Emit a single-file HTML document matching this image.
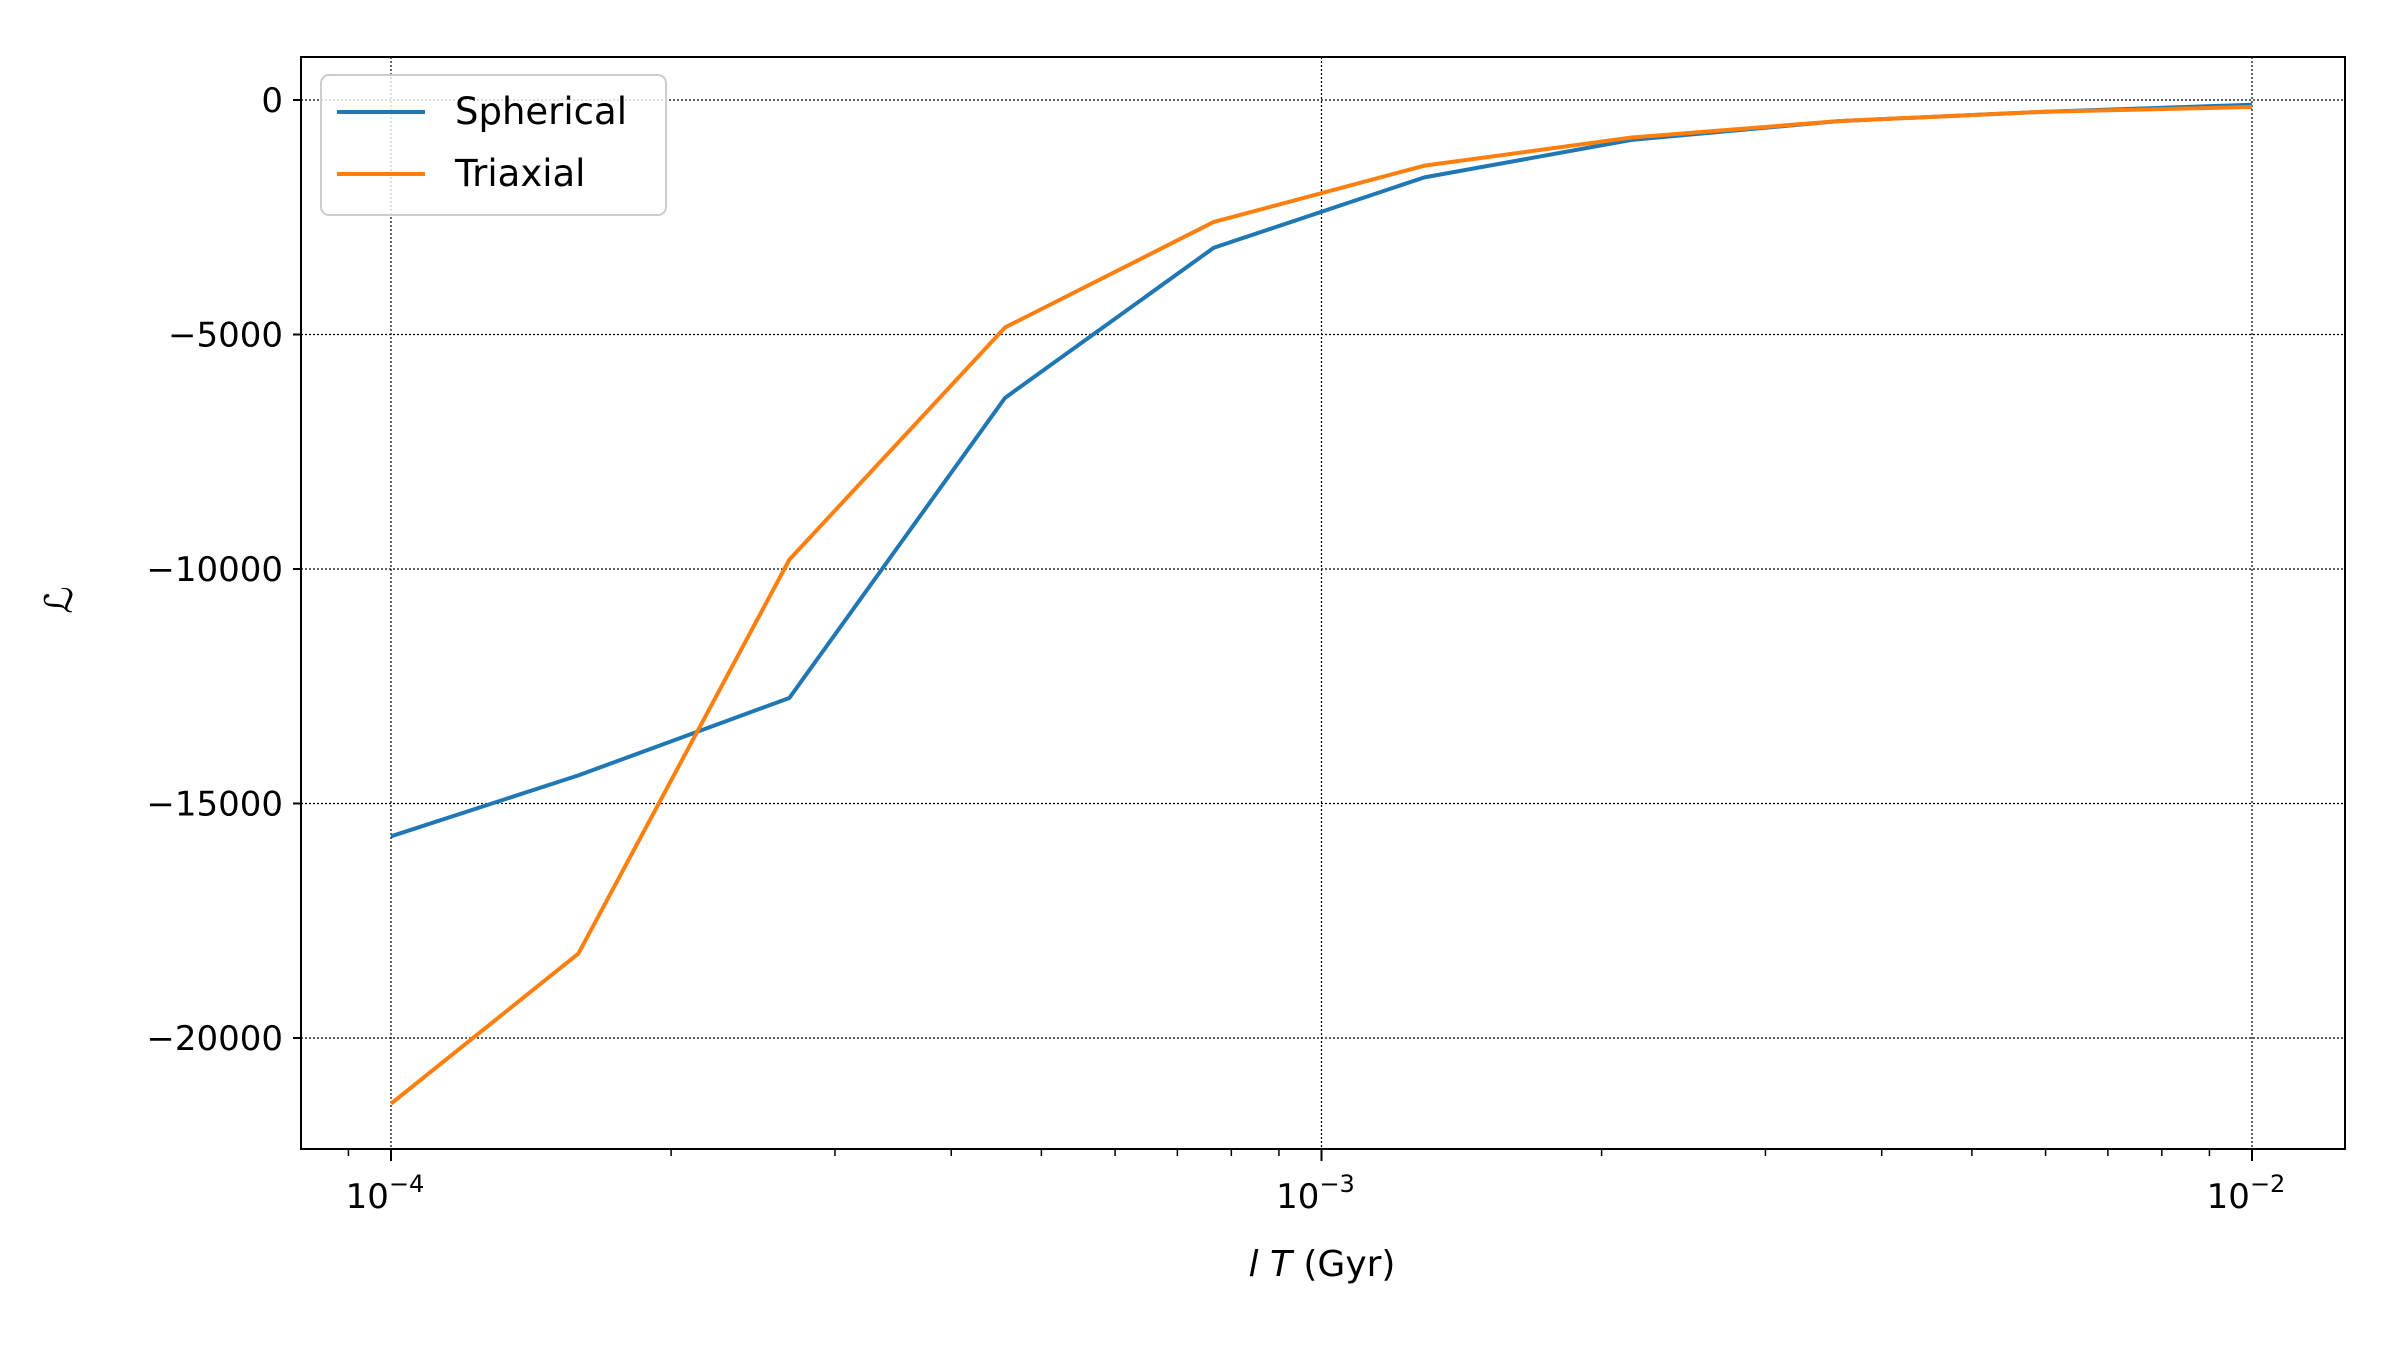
<!DOCTYPE html>
<html><head><meta charset="utf-8"><style>
html,body{margin:0;padding:0;background:#fff;}
svg text{font-family:"DejaVu Sans","Liberation Sans",sans-serif;fill:#000;}
</style></head><body>
<svg id="chart" width="2400" height="1350" viewBox="0 0 2400 1350" xmlns="http://www.w3.org/2000/svg">
<rect width="2400" height="1350" fill="#fff"/>
<g id="grid"></g>
<g id="series"></g>
<rect x="301" y="57" width="2044" height="1092" fill="none" stroke="#000" stroke-width="2"/>
<g id="axes"></g>
<text x="1322" y="1276" font-size="36" text-anchor="middle"><tspan font-style="italic">l T</tspan> (Gyr)</text>
<text transform="translate(72,600) rotate(-90)" font-size="38" font-style="italic" text-anchor="middle">ℒ</text>
<g>
<rect x="321" y="75" width="345" height="140" rx="8" fill="#fff" fill-opacity="0.8" stroke="#ccc" stroke-width="2"/>
<line x1="337" y1="112" x2="425" y2="112" stroke="#1f77b4" stroke-width="4"/>
<text x="455" y="124" font-size="37">Spherical</text>
<line x1="337" y1="174" x2="425" y2="174" stroke="#ff7f0e" stroke-width="4"/>
<text x="455" y="186" font-size="37">Triaxial</text>
</g>
</svg>
<script>
const xValues=[1e-4,1.59e-4,2.68e-4,4.57e-4,7.66e-4,1.29e-3,2.154e-3,3.594e-3,5.995e-3,1e-2];
const spherical=[-15700,-14400,-12750,-6350,-3150,-1650,-850,-450,-250,-100];
const triaxial=[-21400,-18200,-9800,-4850,-2600,-1400,-800,-450,-250,-150];
const yTicks=[0,-5000,-10000,-15000,-20000];
const yTickLabels=["0","−5000","−10000","−15000","−20000"];
const xTickExps=[-4,-3,-2];
const NS="http://www.w3.org/2000/svg";
function xs(v){return 391+(Math.log10(v)+4)*930.5;}
function ys(v){return 100-v*(938/20000);}
function mk(tag,attrs,parent){const e=document.createElementNS(NS,tag);for(const k in attrs)e.setAttribute(k,attrs[k]);parent.appendChild(e);return e;}
const grid=document.getElementById('grid'),axes=document.getElementById('axes'),ser=document.getElementById('series');
yTicks.forEach((t,i)=>{const y=ys(t);
 const g=mk('line',{x1:301,x2:2345,y1:y,y2:y,stroke:'#000','stroke-width':1.2,'stroke-dasharray':'2,2'},grid);
 
 const tk=mk('line',{x1:293,x2:301,y1:y,y2:y,stroke:'#000','stroke-width':2},axes);
 
 const tx=mk('text',{x:283,y:y+12,'font-size':34,'text-anchor':'end'},axes);tx.textContent=yTickLabels[i];
 
});
xTickExps.forEach(e=>{const x=xs(Math.pow(10,e));
 const g=mk('line',{x1:x,x2:x,y1:57,y2:1149,stroke:'#000','stroke-width':1.2,'stroke-dasharray':'2,2'},grid);
 
 const tk=mk('line',{x1:x,x2:x,y1:1149,y2:1161,stroke:'#000','stroke-width':2},axes);
 
 const tx=mk('text',{x:x-6,y:1208,'font-size':34,'text-anchor':'middle'},axes);
 
 tx.innerHTML='10<tspan dy="-16" font-size="24">−'+(-e)+'</tspan>';
});
for(let e=-5;e<=-2;e++){for(let m=2;m<=9;m++){const v=m*Math.pow(10,e);const x=xs(v);if(x<301||x>2345)continue;
 const tk=mk('line',{x1:x,x2:x,y1:1149,y2:1156,stroke:'#000','stroke-width':1.5},axes);
 }}
function line(vals,color,name){const pts=vals.map((v,i)=>xs(xValues[i])+','+ys(v)).join(' ');
 const p=mk('polyline',{points:pts,fill:'none',stroke:color,'stroke-width':4,'stroke-linejoin':'round'},ser);
 }
line(spherical,'#1f77b4','spherical-line');
line(triaxial,'#ff7f0e','triaxial-line');
</script>
</body></html>
